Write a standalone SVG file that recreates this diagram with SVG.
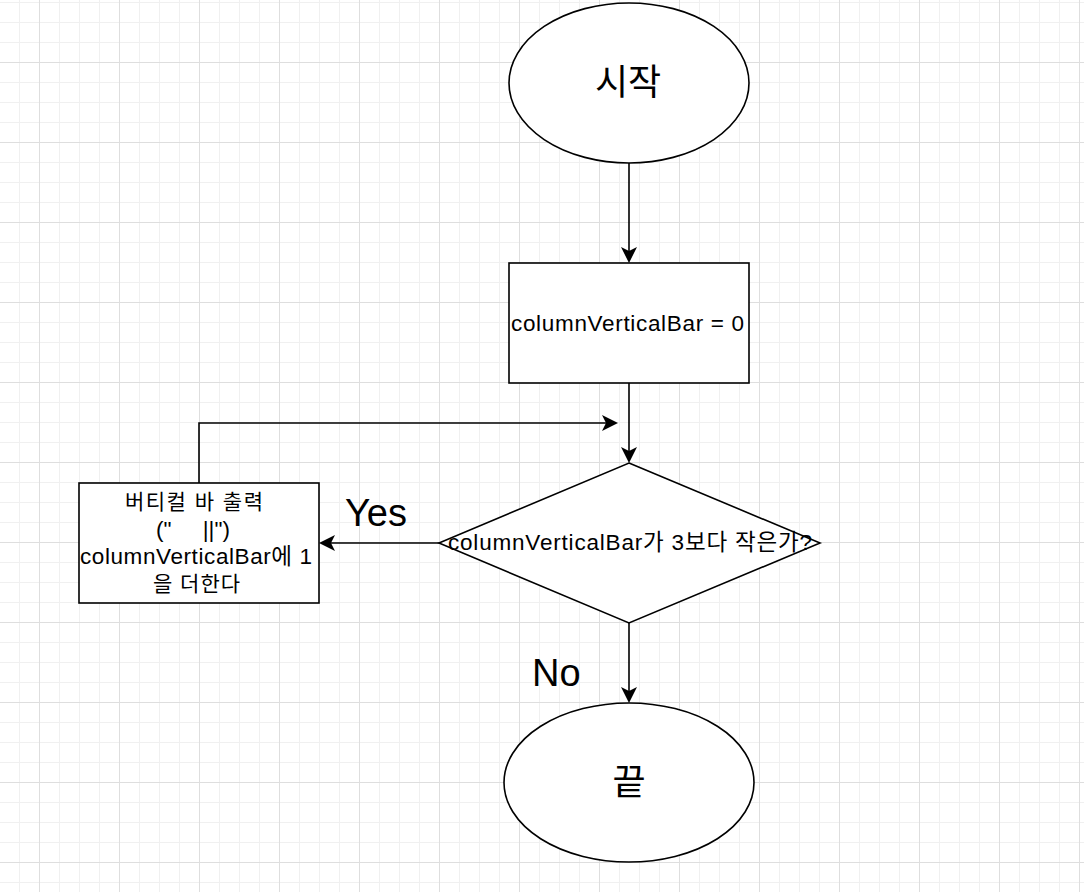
<svg xmlns="http://www.w3.org/2000/svg" width="1084" height="892" viewBox="0 0 1084 892">
  <style>
    .shape { fill: #ffffff; stroke: #000000; stroke-width: 1.6; }
    .conn { fill: none; stroke: #000000; stroke-width: 1.6; }
    .txt { font-family: "Liberation Sans", "Noto Sans CJK KR", sans-serif; fill: #000000; }
    .big { font-size: 36px; }
    .lbl { font-size: 38px; }
    .mid { font-size: 21px; }
    .lat { font-size: 22.5px; }
  </style>
  <defs>
    <pattern id="grid" x="39" y="62" width="80" height="80" patternUnits="userSpaceOnUse">
      <rect x="0" y="0" width="80" height="80" fill="#ffffff"/>
      <rect x="20" y="0" width="1" height="80" fill="#f0f0f0"/>
      <rect x="40" y="0" width="1" height="80" fill="#f0f0f0"/>
      <rect x="60" y="0" width="1" height="80" fill="#f0f0f0"/>
      <rect x="0" y="20" width="80" height="1" fill="#f0f0f0"/>
      <rect x="0" y="40" width="80" height="1" fill="#f0f0f0"/>
      <rect x="0" y="60" width="80" height="1" fill="#f0f0f0"/>
      <rect x="0" y="0" width="1" height="80" fill="#dedede"/>
      <rect x="0" y="0" width="80" height="1" fill="#dedede"/>
    </pattern>
    <marker id="arrow" viewBox="0 0 16 16" markerWidth="16" markerHeight="16" refX="8" refY="8" orient="auto" markerUnits="userSpaceOnUse">
      <path d="M0,0 L16,8 L0,16 L4,8 Z" fill="#000000"/>
    </marker>
  </defs>

  <rect x="0" y="0" width="1084" height="892" fill="url(#grid)"/>

  <g id="connectors">
    <path class="conn" d="M629,163 L629,255" marker-end="url(#arrow)"/>
    <path class="conn" d="M629,383 L629,455" marker-end="url(#arrow)"/>
    <path class="conn" d="M439,543 L327,543" marker-end="url(#arrow)"/>
    <path class="conn" d="M199,483 L199,423 L610,423" marker-end="url(#arrow)"/>
    <path class="conn" d="M629,623 L629,695" marker-end="url(#arrow)"/>
    <text class="txt lbl" x="345" y="526">Yes</text>
    <text class="txt lbl" x="532" y="686">No</text>
  </g>

  <g id="start">
    <ellipse class="shape" cx="629" cy="83" rx="120" ry="80"/>
    <text class="txt big" x="628" y="95" text-anchor="middle">시작</text>
  </g>

  <g id="init">
    <rect class="shape" x="509" y="263" width="240" height="120"/>
    <text class="txt lat" x="511" y="331" textLength="233" lengthAdjust="spacing">columnVerticalBar = 0</text>
  </g>

  <g id="decision">
    <polygon class="shape" points="629,463 820,543 629,623 439,543"/>
    <text class="txt lat" x="448" y="550" textLength="364" lengthAdjust="spacing">columnVerticalBar가 3보다 작은가?</text>
  </g>

  <g id="output">
    <rect class="shape" x="79" y="483" width="240" height="120"/>
    <text class="txt mid" x="125" y="509" textLength="138" lengthAdjust="spacing">버티컬 바 출력</text>
    <text class="txt lat" x="156" y="537" xml:space="preserve">("     ||")</text>
    <text class="txt lat" x="80" y="564" textLength="232" lengthAdjust="spacing">columnVerticalBar에 1</text>
    <text class="txt mid" x="153" y="591" textLength="87" lengthAdjust="spacing">을 더한다</text>
  </g>

  <g id="end">
    <ellipse class="shape" cx="629" cy="782.5" rx="125" ry="79.5"/>
    <text class="txt big" x="629" y="795" text-anchor="middle">끝</text>
  </g>
</svg>
